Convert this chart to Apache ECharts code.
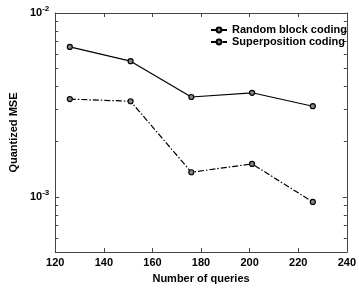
<!DOCTYPE html>
<html><head><meta charset="utf-8">
<script src="https://cdn.jsdelivr.net/npm/echarts@6/dist/echarts.min.js"></script>
<style>html,body{margin:0;padding:0;background:#fff}#c{width:359px;height:289px}</style>
</head><body><div id="c"></div>
<script>
const queries = [126, 151, 176, 201, 226];
const randomBlock = [6.54e-3, 5.47e-3, 3.49e-3, 3.68e-3, 3.11e-3];
const superposition = [3.40e-3, 3.31e-3, 1.36e-3, 1.51e-3, 9.37e-4];
const seriesNames = ['Random block coding', 'Superposition coding'];
const xTicks = [120, 140, 160, 180, 200, 220, 240];
const yMajor = [1e-3, 1e-2];
const yMinor = [5e-4, 6e-4, 7e-4, 8e-4, 9e-4, 2e-3, 3e-3, 4e-3, 5e-3, 6e-3, 7e-3, 8e-3, 9e-3];

const font = '"Liberation Sans", Arial, Helvetica, sans-serif';
const axisColor = '#444';
const chart = echarts.init(document.getElementById('c'));

function pairs(ys) { return queries.map((q, i) => [q, ys[i]]); }

const yLabel = {
  fontFamily: font, color: '#000', margin: 6,
  formatter: function (v) {
    for (const m of yMajor) {
      if (Math.abs(v - m) / m < 1e-6) {
        return '{b|10}{s|' + Math.round(Math.log10(m)) + '}';
      }
    }
    return '';
  },
  rich: {
    b: { fontSize: 11, fontWeight: 'bold', fontFamily: font, color: '#000' },
    s: { fontSize: 8, fontWeight: 'bold', fontFamily: font, color: '#000', verticalAlign: 'top', padding: [0, 0, 8, 0] }
  }
};

const xBase = { type: 'value', min: xTicks[0], max: xTicks[xTicks.length - 1], interval: 20 };
const yBase = { type: 'log', logBase: 10, min: 5e-4, max: 1e-2 };

chart.setOption({
  animation: false,
  grid: { left: 39, right: 10, top: 13, bottom: 32, containLabel: false },
  xAxis: [
    Object.assign({}, xBase, {
      position: 'bottom',
      name: 'Number of queries', nameLocation: 'middle', nameGap: 20,
      nameTextStyle: { fontFamily: font, fontWeight: 'bold', fontSize: 11, color: '#000' },
      axisLine: { lineStyle: { color: axisColor, width: 1 } },
      axisTick: { inside: true, length: 4, lineStyle: { color: axisColor } },
      axisLabel: { fontFamily: font, fontWeight: 'bold', fontSize: 11, color: '#000', margin: 5 },
      splitLine: { show: false }
    }),
    Object.assign({}, xBase, {
      position: 'top',
      axisLine: { lineStyle: { color: axisColor, width: 1 } },
      axisTick: { inside: true, length: 4, lineStyle: { color: axisColor } },
      axisLabel: { show: false },
      splitLine: { show: false }
    })
  ],
  yAxis: [
    Object.assign({}, yBase, {
      position: 'left',
      name: 'Quantized MSE', nameLocation: 'middle', nameGap: 27,
      nameTextStyle: { fontFamily: font, fontWeight: 'bold', fontSize: 11, color: '#000' },
      axisLine: { lineStyle: { color: axisColor, width: 1 } },
      axisTick: { inside: true, length: 4, lineStyle: { color: axisColor } },
      axisLabel: yLabel,
      splitLine: { show: false }
    }),
    Object.assign({}, yBase, {
      position: 'right',
      axisLine: { lineStyle: { color: axisColor, width: 1 } },
      axisTick: { inside: true, length: 4, lineStyle: { color: axisColor } },
      axisLabel: { show: false },
      splitLine: { show: false }
    })
  ],
  legend: {
    orient: 'vertical', left: 210, top: 24, padding: 0, itemWidth: 16, itemHeight: 6, itemGap: 0,
    textStyle: { fontFamily: font, fontWeight: 'bold', fontSize: 11, color: '#000', lineHeight: 12 },
    data: seriesNames
  },
  series: [
    {
      name: seriesNames[0], type: 'line', data: pairs(randomBlock),
      symbol: 'circle', symbolSize: 5,
      lineStyle: { color: '#000', width: 1.2, type: 'solid' },
      itemStyle: { color: '#888', borderColor: '#000', borderWidth: 1.2 }
    },
    {
      name: seriesNames[1], type: 'line', data: pairs(superposition),
      symbol: 'circle', symbolSize: 5,
      lineStyle: { color: '#000', width: 1.2, type: [6, 2, 1.5, 2] },
      itemStyle: { color: '#888', borderColor: '#000', borderWidth: 1.2 }
    }
  ]
});

// minor log ticks on both y axes, placed through the axis scale
const xl = chart.convertToPixel({ xAxisIndex: 0 }, xTicks[0]);
const xr = chart.convertToPixel({ xAxisIndex: 0 }, xTicks[xTicks.length - 1]);
const g = [];
yMinor.forEach(v => {
  const y = Math.round(chart.convertToPixel({ yAxisIndex: 0 }, v)) + 0.5;
  g.push({ type: 'line', shape: { x1: xl, y1: y, x2: xl + 3, y2: y }, style: { stroke: axisColor, lineWidth: 1 }, silent: true });
  g.push({ type: 'line', shape: { x1: xr - 3, y1: y, x2: xr, y2: y }, style: { stroke: axisColor, lineWidth: 1 }, silent: true });
});
chart.setOption({ graphic: g });
</script></body></html>
